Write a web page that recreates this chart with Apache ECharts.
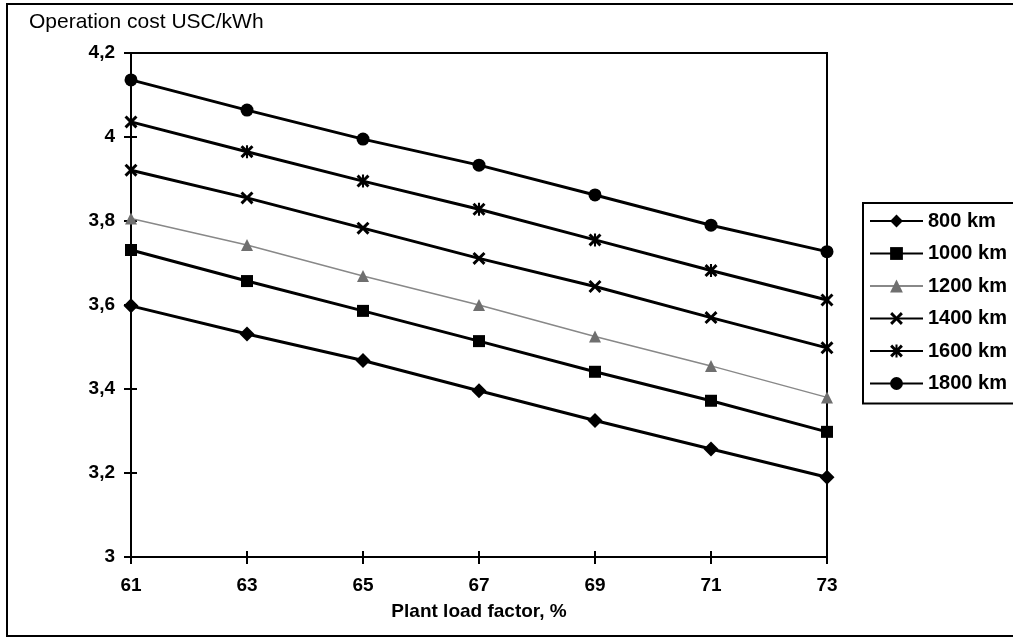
<!DOCTYPE html>
<html>
<head>
<meta charset="utf-8">
<script src="https://cdn.jsdelivr.net/npm/echarts@6/dist/echarts.min.js"></script>
<style>
  html, body { margin: 0; padding: 0; background: #fff; }
  #chart { width: 1013px; height: 638px; }
</style>
</head>
<body>
<div id="chart"></div>
<script>
// ---- data ----
const categories = ['61', '63', '65', '67', '69', '71', '73'];
const seriesNames = ['800 km', '1000 km', '1200 km', '1400 km', '1600 km', '1800 km'];
const km800  = [3.598, 3.531, 3.468, 3.396, 3.325, 3.257, 3.190];
const km1000 = [3.731, 3.657, 3.586, 3.514, 3.441, 3.372, 3.298];
const km1200 = [3.806, 3.743, 3.669, 3.600, 3.525, 3.455, 3.380];
const km1400 = [3.921, 3.855, 3.783, 3.711, 3.644, 3.570, 3.498];
const km1600 = [4.036, 3.965, 3.895, 3.828, 3.755, 3.682, 3.612];
const km1800 = [4.136, 4.064, 3.995, 3.933, 3.862, 3.790, 3.727];
const yTicks = { min: 3, max: 4.2, interval: 0.2 };

const FONT = '"Liberation Sans", Arial, sans-serif';
const X_SHAPE = 'path://M1.6,0 L5,3.4 L8.4,0 L10,1.6 L6.6,5 L10,8.4 L8.4,10 L5,6.6 L1.6,10 L0,8.4 L3.4,5 L0,1.6 Z';
const STAR_SHAPE = 'path://M1.6,0 L5,3.4 L8.4,0 L10,1.6 L6.6,5 L10,8.4 L8.4,10 L5,6.6 L1.6,10 L0,8.4 L3.4,5 L0,1.6 Z M4.2,0 L5.8,0 L5.8,10 L4.2,10 Z';

const styles = [
  { data: km800,  symbol: 'diamond',  size: 15, color: '#000', width: 3 },
  { data: km1000, symbol: 'rect',     size: 12, color: '#000', width: 3 },
  { data: km1200, symbol: 'triangle', size: 12, color: '#888', width: 1.5 },
  { data: km1400, symbol: X_SHAPE,    size: 13, color: '#000', width: 3 },
  { data: km1600, symbol: STAR_SHAPE, size: 13, color: '#000', width: 3 },
  { data: km1800, symbol: 'circle',   size: 13, color: '#000', width: 3 }
];

const series = styles.map((s, i) => ({
  name: seriesNames[i],
  type: 'line',
  data: s.data,
  symbol: s.symbol,
  symbolSize: s.size,
  showSymbol: true,
  lineStyle: { color: s.color, width: s.width },
  itemStyle: { color: i === 2 ? '#6f6f6f' : s.color, borderWidth: 0 },
  animation: false,
  z: 3
}));

const fmt = v => String(Math.round(v * 10) / 10).replace('.', ',');

const chart = echarts.init(document.getElementById('chart'), null, { renderer: 'canvas' });
chart.setOption({
  backgroundColor: '#fff',
  animation: false,
  textStyle: { fontFamily: FONT },
  grid: {
    left: 131, right: 186, top: 53, bottom: 81,
    show: true, borderColor: '#000', borderWidth: 2, backgroundColor: 'transparent'
  },
  graphic: [
    { type: 'rect', shape: { x: 7, y: 4, width: 1010, height: 632 },
      style: { fill: 'none', stroke: '#000', lineWidth: 2 }, silent: true, z: -1 },
    { type: 'text', left: 29, top: 12,
      style: { text: 'Operation cost USC/kWh', font: '21px ' + FONT, fill: '#000' } },
    { type: 'text',
      style: { x: 479, y: 612, text: 'Plant load factor, %', font: 'bold 19px ' + FONT, fill: '#000',
               textAlign: 'center', textVerticalAlign: 'middle' } }
  ],
  legend: {
    orient: 'vertical',
    left: 863, top: 203,
    data: seriesNames,
    itemWidth: 53, itemHeight: 16,
    itemGap: 12.5,
    padding: [8, 14, 10, 6],
    borderColor: '#000', borderWidth: 2,
    textStyle: { fontFamily: FONT, fontSize: 20, fontWeight: 'bold', color: '#000' },
    selectedMode: false
  },
  xAxis: [
    {
      type: 'category', data: categories, boundaryGap: false,
      axisLine: { lineStyle: { color: '#000', width: 2 } },
      axisTick: { show: true, length: 7, inside: false, lineStyle: { color: '#000', width: 2 } },
      axisLabel: { color: '#000', fontFamily: FONT, fontSize: 19, fontWeight: 'bold', margin: 19 },
      splitLine: { show: false }
    },
    {
      type: 'category', data: categories, boundaryGap: false, position: 'bottom',
      axisLine: { show: false },
      axisTick: { show: true, length: 6, inside: true, lineStyle: { color: '#000', width: 2 } },
      axisLabel: { show: false },
      splitLine: { show: false }
    }
  ],
  yAxis: [
    {
      type: 'value', min: yTicks.min, max: yTicks.max, interval: yTicks.interval,
      axisLine: { show: true, lineStyle: { color: '#000', width: 2 } },
      axisTick: { show: true, length: 7, inside: false, lineStyle: { color: '#000', width: 2 } },
      axisLabel: { color: '#000', fontFamily: FONT, fontSize: 19, fontWeight: 'bold', margin: 16, formatter: fmt },
      splitLine: { show: false }
    },
    {
      type: 'value', min: yTicks.min, max: yTicks.max, interval: yTicks.interval, position: 'left',
      axisLine: { show: false },
      axisTick: { show: true, length: 6, inside: true, lineStyle: { color: '#000', width: 2 } },
      axisLabel: { show: false },
      splitLine: { show: false }
    }
  ],
  series: series
});
</script>
</body>
</html>
